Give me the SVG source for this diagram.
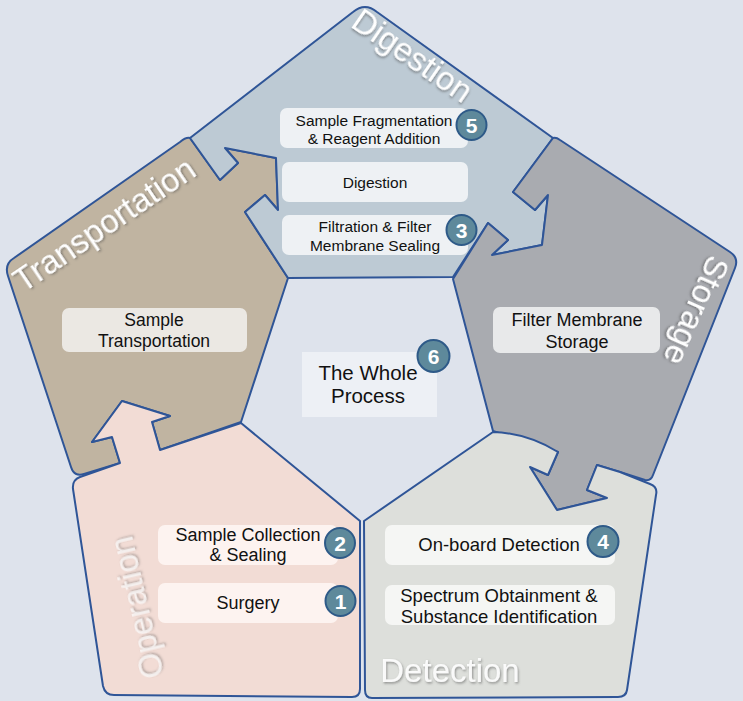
<svg xmlns="http://www.w3.org/2000/svg" width="743" height="701" viewBox="0 0 743 701">
<defs>
<filter id="sh" x="-10%" y="-10%" width="120%" height="130%">
<feDropShadow dx="1" dy="1.5" stdDeviation="1" flood-color="#444" flood-opacity="0.55"/>
</filter>
<style>
.shape{stroke:#2f5597;stroke-width:2;stroke-linejoin:round}
.title{font-family:"Liberation Sans",Arial,sans-serif;font-size:33px;fill:#fff;text-anchor:middle;filter:url(#sh)}
.lbl{font-family:"Liberation Sans",Arial,sans-serif;fill:#111;text-anchor:middle}
.num circle{fill:#5e899b;stroke:#2e5a88;stroke-width:2}
.num text{font-family:"Liberation Sans",Arial,sans-serif;font-weight:bold;font-size:21px;fill:#fff;text-anchor:middle}
</style>
</defs>
<rect width="743" height="701" fill="#dee3ec"/>

<g id="transportation">
<path class="shape" fill="#c0b4a1" d="M190,138 L220,180 L238,163 L225,148 L276,158 L278,210 L265,195 L245,212 L288,278 L241,422 L160,450 L152,422 L170,416 L122,401 L92,442 L112,437 L120,463 L84,474 Q74,477 71,467 L8,276 Q4,264 14,258 L180,142 Q186,137 190,138 Z"/>
<text class="title" font-size="34" transform="translate(110.5,234) rotate(-34.1)">Transportation</text>
<rect x="62" y="308" width="185" height="44" rx="7" fill="#ebe8e3"/>
<text class="lbl" font-size="17.5" x="154" y="325.5">Sample</text>
<text class="lbl" font-size="17.5" x="154" y="347">Transportation</text>
</g>

<g id="digestion">
<path class="shape" fill="#bdcad4" d="M190,138 L220,180 L238,163 L225,148 L276,158 L278,210 L265,195 L245,212 L288,278 L453,277 L488,223 L508,240 L492,255 L542,245 L548,195 L535,210 L513,192 L553,138 L377,12 Q365,2 353,12 L190,138 Z"/>
<text class="title" transform="translate(406,65) rotate(34.5)">Digestion</text>
<rect x="280" y="108" width="188" height="40" rx="7" fill="#eef1f4"/>
<text class="lbl" font-size="15.5" x="374" y="125.5">Sample Fragmentation</text>
<text class="lbl" font-size="15.5" x="374" y="143.5">&amp; Reagent Addition</text>
<rect x="282" y="162" width="186" height="40" rx="7" fill="#eef1f4"/>
<text class="lbl" font-size="15.5" x="375" y="188">Digestion</text>
<rect x="282" y="215" width="186" height="40" rx="7" fill="#eef1f4"/>
<text class="lbl" font-size="15.5" x="375" y="232">Filtration &amp; Filter</text>
<text class="lbl" font-size="15.5" x="375" y="250.5">Membrane Sealing</text>
<g class="num"><circle cx="471.5" cy="125" r="15"/><text x="471.5" y="132.5">5</text></g>
<g class="num"><circle cx="461.5" cy="230" r="15"/><text x="461.5" y="237.5">3</text></g>
</g>

<g id="storage">
<path class="shape" fill="#a9abb0" d="M553,138 L513,192 L535,210 L548,195 L542,245 L492,255 L508,240 L488,223 L453,279 L493,431 L558,452 L548,475 L530,467 L557,510 L607,498 L587,490 L597,465 L620,472 L645,480 Q651,481 653,475 L735,268 Q739,258 730,252 L560,140 Q556,137 553,138 Z"/>
<text class="title" transform="translate(686,306) rotate(114)">Storage</text>
<rect x="493" y="307" width="167" height="46" rx="7" fill="#e8e9ea"/>
<text class="lbl" font-size="18" x="577" y="326">Filter Membrane</text>
<text class="lbl" font-size="18" x="577" y="347.5">Storage</text>
</g>

<g id="detection">
<path class="shape" fill="#dddfdb" d="M364,521 L493,432 Q527,433 558,452 L548,475 L530,467 L557,510 L607,498 L587,490 L597,465 L620,472 L650,484 Q658,487 656,495 L627,690 Q626,697 618,697 L372,698 Q365,698 365,690 Z"/>
<text class="title" x="450" y="682" fill-opacity="0.9">Detection</text>
<rect x="385" y="525" width="230" height="40" rx="7" fill="#f5f6f4"/>
<text class="lbl" font-size="18.5" x="499" y="551">On-board Detection</text>
<rect x="385" y="585" width="230" height="40" rx="7" fill="#f5f6f4"/>
<text class="lbl" font-size="18.5" x="499" y="601.5">Spectrum Obtainment &amp;</text>
<text class="lbl" font-size="18.5" x="499" y="622.5">Substance Identification</text>
<g class="num"><circle cx="603" cy="541.5" r="15.5"/><text x="603" y="549">4</text></g>
</g>

<g id="operation">
<path class="shape" fill="#f2dcd5" d="M360,521 L241,423 L160,450 L152,422 L170,416 L122,401 L92,442 L112,437 L120,463 L80,477 Q72,480 73,489 L103,686 Q105,695 114,695 L352,697 Q360,697 360,689 Z"/>
<text class="title" fill-opacity="0.7" transform="translate(148,605) rotate(-103)">Operation</text>
<rect x="158" y="525" width="180" height="40" rx="7" fill="#fdf3f0"/>
<text class="lbl" font-size="18" x="248" y="541">Sample Collection</text>
<text class="lbl" font-size="18" x="248" y="561">&amp; Sealing</text>
<rect x="158" y="583" width="180" height="40" rx="7" fill="#fdf3f0"/>
<text class="lbl" font-size="18" x="248" y="609">Surgery</text>
<g class="num"><circle cx="340" cy="543" r="15"/><text x="340" y="550.5">2</text></g>
<g class="num"><circle cx="340.5" cy="601" r="15"/><text x="340.5" y="608.5">1</text></g>
</g>

<g id="whole-process">
<rect x="302" y="352" width="135" height="65" fill="#edf0f5"/>
<text class="lbl" font-size="20.5" x="368" y="379.5">The Whole</text>
<text class="lbl" font-size="20.5" x="368" y="403">Process</text>
<g class="num"><circle cx="433.5" cy="356" r="16"/><text x="433.5" y="363.5">6</text></g>
</g>

<g id="connectors"></g>
</svg>
